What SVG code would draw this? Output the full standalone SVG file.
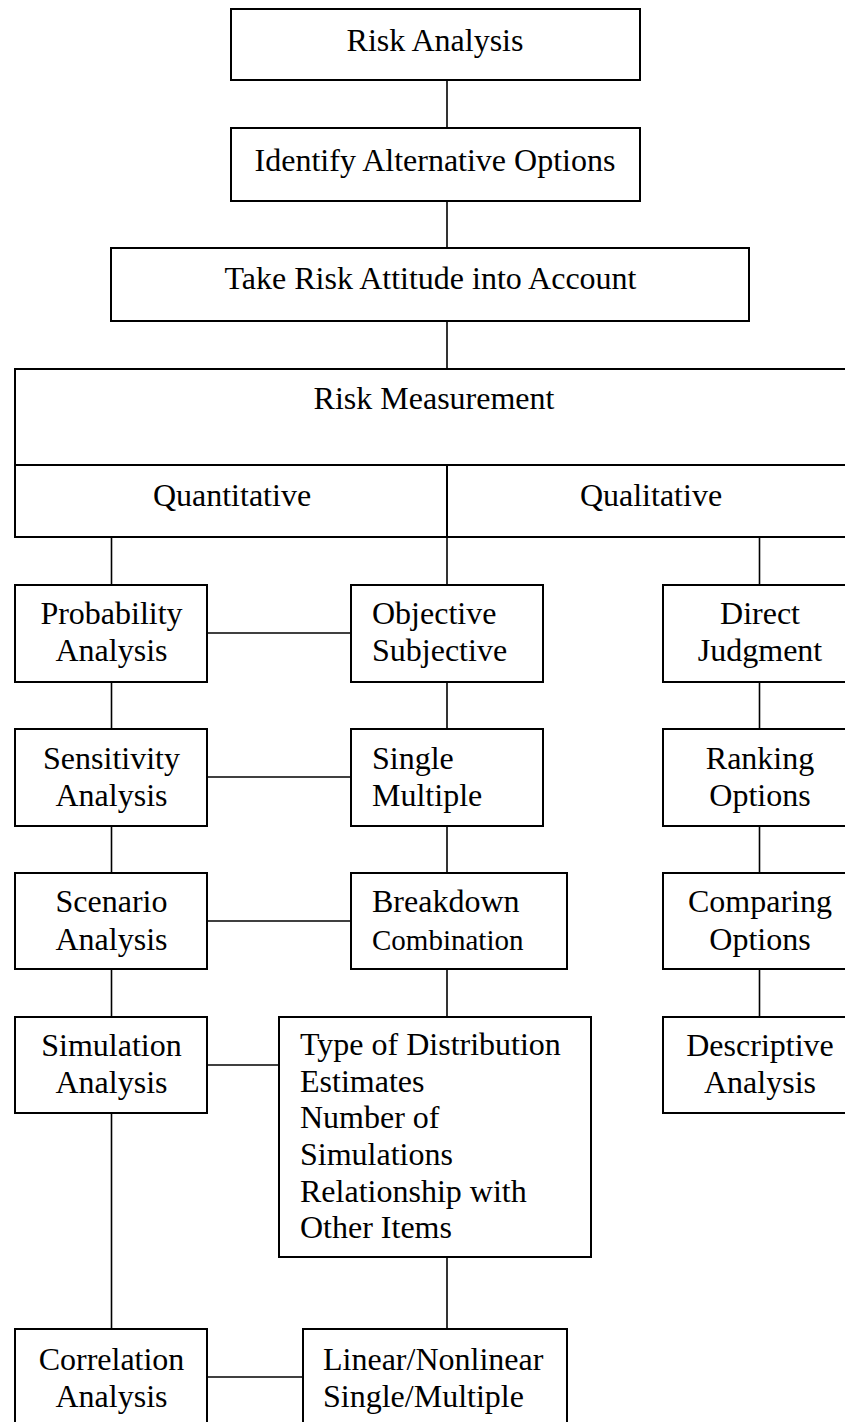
<svg xmlns="http://www.w3.org/2000/svg" width="845" height="1422" viewBox="0 0 845 1422">
  <style>
    .box { fill: #ffffff; stroke: #000000; stroke-width: 2; }
    .link { stroke: #000000; stroke-width: 1.6; fill: none; }
    text { font-family: "Liberation Serif", "Times New Roman", serif; font-size: 32px; fill: #000000; }
    .c { text-anchor: middle; }
  </style>
  <rect x="0" y="0" width="845" height="1422" fill="#ffffff"/>

  <!-- connectors -->
  <g id="connectors">
    <line class="link" x1="447" y1="80" x2="447" y2="128"/>
    <line class="link" x1="447" y1="201" x2="447" y2="248"/>
    <line class="link" x1="447" y1="321" x2="447" y2="369"/>
    <!-- quantitative column -->
    <line class="link" x1="111.5" y1="537" x2="111.5" y2="585"/>
    <line class="link" x1="111.5" y1="682" x2="111.5" y2="729"/>
    <line class="link" x1="111.5" y1="826" x2="111.5" y2="873"/>
    <line class="link" x1="111.5" y1="969" x2="111.5" y2="1017"/>
    <line class="link" x1="111.5" y1="1113" x2="111.5" y2="1329"/>
    <!-- detail column -->
    <line class="link" x1="447" y1="537" x2="447" y2="585"/>
    <line class="link" x1="447" y1="682" x2="447" y2="729"/>
    <line class="link" x1="447" y1="826" x2="447" y2="873"/>
    <line class="link" x1="447" y1="969" x2="447" y2="1017"/>
    <line class="link" x1="447" y1="1257" x2="447" y2="1329"/>
    <!-- qualitative column -->
    <line class="link" x1="759.5" y1="537" x2="759.5" y2="585"/>
    <line class="link" x1="759.5" y1="682" x2="759.5" y2="729"/>
    <line class="link" x1="759.5" y1="826" x2="759.5" y2="873"/>
    <line class="link" x1="759.5" y1="969" x2="759.5" y2="1017"/>
    <!-- horizontal links -->
    <line class="link" x1="207" y1="633" x2="351" y2="633"/>
    <line class="link" x1="207" y1="777" x2="351" y2="777"/>
    <line class="link" x1="207" y1="921" x2="351" y2="921"/>
    <line class="link" x1="207" y1="1065" x2="279" y2="1065"/>
    <line class="link" x1="207" y1="1377" x2="303" y2="1377"/>
  </g>

  <g id="risk-analysis">
    <rect class="box" x="231" y="9" width="409" height="71"/>
    <text class="c" x="435" y="51">Risk Analysis</text>
  </g>
  <g id="identify-options">
    <rect class="box" x="231" y="128" width="409" height="73"/>
    <text class="c" x="435" y="171">Identify Alternative Options</text>
  </g>
  <g id="risk-attitude">
    <rect class="box" x="111" y="248" width="638" height="73"/>
    <text class="c" x="430.5" y="289">Take Risk Attitude into Account</text>
  </g>

  <g id="risk-measurement">
    <rect class="box" x="15" y="369" width="845" height="168"/>
    <line class="box" x1="15" y1="465" x2="860" y2="465"/>
    <line class="box" x1="447" y1="465" x2="447" y2="537"/>
    <text class="c" x="434" y="409">Risk Measurement</text>
    <text class="c" x="232" y="506">Quantitative</text>
    <text class="c" x="651" y="506">Qualitative</text>
  </g>

  <g id="probability-analysis">
    <rect class="box" x="15" y="585" width="192" height="97"/>
    <text class="c" x="111.5" y="624">Probability</text>
    <text class="c" x="111.5" y="661">Analysis</text>
  </g>
  <g id="objective-subjective">
    <rect class="box" x="351" y="585" width="192" height="97"/>
    <text x="372" y="624">Objective</text>
    <text x="372" y="661">Subjective</text>
  </g>
  <g id="direct-judgment">
    <rect class="box" x="663" y="585" width="200" height="97"/>
    <text class="c" x="760" y="624">Direct</text>
    <text class="c" x="760" y="661">Judgment</text>
  </g>

  <g id="sensitivity-analysis">
    <rect class="box" x="15" y="729" width="192" height="97"/>
    <text class="c" x="111.5" y="769">Sensitivity</text>
    <text class="c" x="111.5" y="806">Analysis</text>
  </g>
  <g id="single-multiple">
    <rect class="box" x="351" y="729" width="192" height="97"/>
    <text x="372" y="769">Single</text>
    <text x="372" y="806">Multiple</text>
  </g>
  <g id="ranking-options">
    <rect class="box" x="663" y="729" width="200" height="97"/>
    <text class="c" x="760" y="769">Ranking</text>
    <text class="c" x="760" y="806">Options</text>
  </g>

  <g id="scenario-analysis">
    <rect class="box" x="15" y="873" width="192" height="96"/>
    <text class="c" x="111.5" y="912">Scenario</text>
    <text class="c" x="111.5" y="950">Analysis</text>
  </g>
  <g id="breakdown-combination">
    <rect class="box" x="351" y="873" width="216" height="96"/>
    <text x="372" y="912">Breakdown</text>
    <text x="372" y="950" style="font-size:29px">Combination</text>
  </g>
  <g id="comparing-options">
    <rect class="box" x="663" y="873" width="200" height="96"/>
    <text class="c" x="760" y="912">Comparing</text>
    <text class="c" x="760" y="950">Options</text>
  </g>

  <g id="simulation-analysis">
    <rect class="box" x="15" y="1017" width="192" height="96"/>
    <text class="c" x="111.5" y="1056">Simulation</text>
    <text class="c" x="111.5" y="1093">Analysis</text>
  </g>
  <g id="simulation-settings">
    <rect class="box" x="279" y="1017" width="312" height="240"/>
    <text x="300" y="1055">Type of Distribution</text>
    <text x="300" y="1092">Estimates</text>
    <text x="300" y="1128">Number of</text>
    <text x="300" y="1165">Simulations</text>
    <text x="300" y="1202">Relationship with</text>
    <text x="300" y="1238">Other Items</text>
  </g>
  <g id="descriptive-analysis">
    <rect class="box" x="663" y="1017" width="200" height="96"/>
    <text class="c" x="760" y="1056">Descriptive</text>
    <text class="c" x="760" y="1093">Analysis</text>
  </g>

  <g id="correlation-analysis">
    <rect class="box" x="15" y="1329" width="192" height="110"/>
    <text class="c" x="111.5" y="1370">Correlation</text>
    <text class="c" x="111.5" y="1407">Analysis</text>
  </g>
  <g id="linear-single">
    <rect class="box" x="303" y="1329" width="264" height="110"/>
    <text x="323" y="1370">Linear/Nonlinear</text>
    <text x="323" y="1407">Single/Multiple</text>
  </g>
</svg>
